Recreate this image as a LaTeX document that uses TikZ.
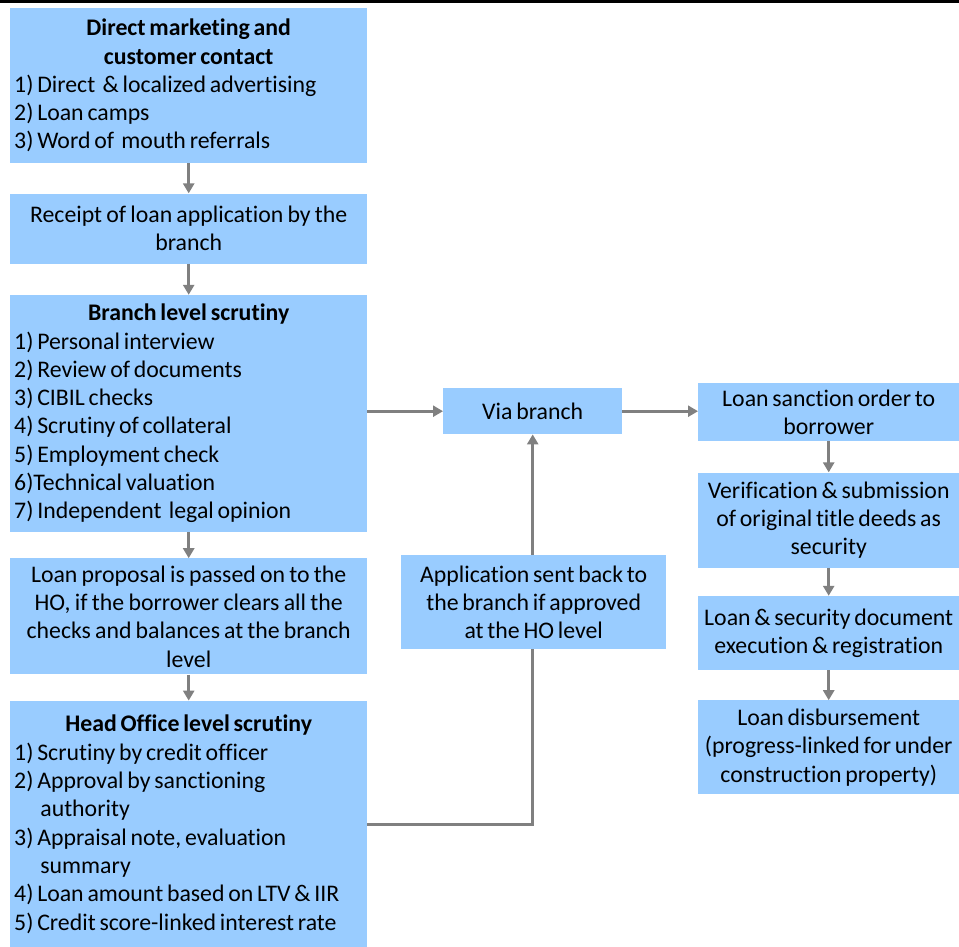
\documentclass[tikz,border=0pt]{standalone}
\usepackage{fontspec}
\setmainfont{Carlito}[Ligatures=NoCommon, WordSpace=0.7]
\usetikzlibrary{positioning, arrows.meta}
\definecolor{boxblue}{HTML}{99CCFF}
\definecolor{linegrey}{HTML}{808080}

\begin{document}
\begin{tikzpicture}[x=1pt, y=-1pt,
        box/.style={rectangle, fill=boxblue, inner xsep=4pt, inner ysep=0pt, align=center, font=\fontsize{23.8}{28.3}\selectfont},
        listbox/.style={box, text width=349pt, align=left, execute at begin node={\spaceskip=0.16em plus 0.05em\xspaceskip=0.16em plus 0.05em\relax}},
        rbox/.style={box, minimum width=261pt},
        arrow/.style={-{Triangle[length=10pt, width=11pt]}, line width=3pt, draw=linegrey}
    ]
    \useasboundingbox (0,0) rectangle (959,947);
    \draw[line width=3.3pt] (0,1.7) -- (959,1.7);

    % left column
    \node[listbox, minimum height=155pt, anchor=north west] (market) at (10,8) {{\centering\bfseries Direct marketing and\\customer contact\par}1) Direct \hspace{0.15em}\& localized advertising\\2) Loan camps\\3) Word of \hspace{0.15em}mouth referrals};
    \node[listbox, minimum height=70pt, below=30pt of market, align=center] (receipt) {Receipt of loan application by the\\branch};
    \node[listbox, minimum height=237pt, below=31pt of receipt] (branch) {{\centering\bfseries Branch level scrutiny\par}1) Personal interview\\2) Review of documents\\3) CIBIL checks\\4) Scrutiny of collateral\\5) Employment check\\6)Technical valuation\\7) Independent \hspace{0.15em}legal opinion};
    \node[listbox, minimum height=116pt, below=26pt of branch, align=center] (proposal) {Loan proposal is passed on to the\\HO, if the borrower clears all the\\checks and balances at the branch\\level};
    \node[listbox, minimum height=247pt, below=26pt of proposal] (head) {{\centering\bfseries Head Office level scrutiny\par}1) Scrutiny by credit officer\\2) Approval by sanctioning\\\hspace*{1.1em}authority\\3) Appraisal note, evaluation\\\hspace*{1.1em}summary\\4) Loan amount based on LTV \& IIR\\5) Credit score-linked interest rate\par\vspace*{10pt}};

    % middle
    \node[box, minimum width=179pt, minimum height=46pt, anchor=north west] (via) at (443,388) {Via branch};

    % right column
    \node[rbox, minimum height=58pt, anchor=north west] (sanction) at (698,383) {Loan sanction order to\\borrower};
    \node[rbox, minimum height=95pt, below=31pt of sanction] (deeds) {Verification \& submission\\of original title deeds as\\security};
    \node[rbox, minimum height=74pt, below=28pt of deeds] (execution) {Loan \& security document\\execution \& registration};
    \node[rbox, minimum height=94pt, below=30pt of execution] (disburse) {Loan disbursement\\(progress-linked for under\\construction property)};

    \draw[arrow] (market) -- (receipt);
    \draw[arrow] (receipt) -- (branch);
    \draw[arrow] (branch) -- (proposal);
    \draw[arrow] (proposal) -- (head);
    \draw[arrow] (via.west -| branch.east) -- (via.west);
    \draw[arrow] (via.east) -- (via.east -| sanction.west);
    \draw[arrow] (sanction) -- (deeds);
    \draw[arrow] (deeds) -- (execution);
    \draw[arrow] (execution) -- (disburse);
    \draw[arrow] (head.east) -| (via.south);

    \node[box, minimum width=265pt, minimum height=94pt, anchor=north west] (sentback) at (401,555) {Application sent back to\\the branch if approved\\at the HO level};
\end{tikzpicture}
\end{document}
